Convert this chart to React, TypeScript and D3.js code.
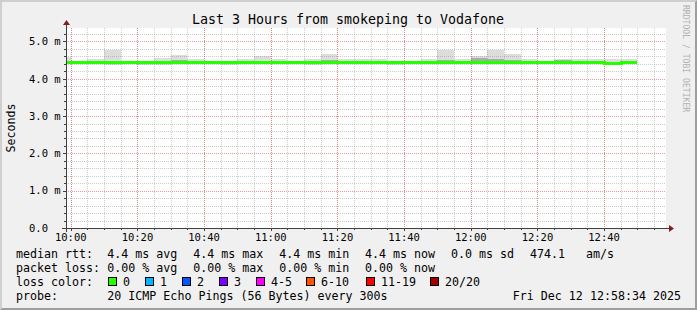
import React from "react";
import * as d3 from "d3";

const W = 697;
const H = 310;
const X0 = 66;
const X1 = 666;
const Y0 = 228;
const Y1 = 28;

const startTime = new Date(2025, 11, 12, 9, 58, 34);
const endTime = new Date(2025, 11, 12, 12, 58, 34);

const intervalEnds = [
  "10:00", "10:05", "10:10", "10:15", "10:20", "10:25", "10:30", "10:35", "10:40", "10:45",
  "10:50", "10:55", "11:00", "11:05", "11:10", "11:15", "11:20", "11:25", "11:30", "11:35",
  "11:40", "11:45", "11:50", "11:55", "12:00", "12:05", "12:10", "12:15", "12:20", "12:25",
  "12:30", "12:35", "12:40", "12:45", "12:50",
];
const medianMs = [
  4.45, 4.45, 4.45, 4.45, 4.44, 4.44, 4.45, 4.45, 4.45, 4.45,
  4.44, 4.45, 4.45, 4.45, 4.45, 4.45, 4.46, 4.45, 4.45, 4.45,
  4.44, 4.45, 4.45, 4.45, 4.45, 4.46, 4.46, 4.45, 4.45, 4.45,
  4.45, 4.45, 4.45, 4.43, 4.45,
];
const minMs = [
  4.42, 4.43, 4.40, 4.38, 4.39, 4.38, 4.38, 4.40, 4.42, 4.39,
  4.38, 4.43, 4.43, 4.42, 4.43, 4.38, 4.42, 4.42, 4.40, 4.42,
  4.38, 4.43, 4.43, 4.43, 4.43, 4.42, 4.43, 4.40, 4.40, 4.42,
  4.43, 4.43, 4.43, 4.38, 4.43,
];
const maxMs = [
  4.57, 4.46, 4.54, 4.78, 4.46, 4.46, 4.55, 4.64, 4.54, 4.47,
  4.46, 4.54, 4.60, 4.53, 4.46, 4.54, 4.65, 4.52, 4.54, 4.54,
  4.46, 4.47, 4.54, 4.76, 4.52, 4.62, 4.78, 4.66, 4.54, 4.46,
  4.54, 4.52, 4.52, 4.54, 4.54,
];
const innerLoMs = [
  4.43, 4.44, 4.43, 4.39, 4.40, 4.39, 4.40, 4.42, 4.43, 4.41,
  4.40, 4.44, 4.44, 4.43, 4.44, 4.40, 4.44, 4.43, 4.42, 4.43,
  4.40, 4.44, 4.44, 4.44, 4.44, 4.44, 4.44, 4.42, 4.42, 4.43,
  4.45, 4.44, 4.44, 4.39, 4.44,
];
const innerHiMs = [
  4.47, 4.46, 4.47, 4.48, 4.45, 4.45, 4.47, 4.49, 4.47, 4.46,
  4.45, 4.47, 4.48, 4.47, 4.46, 4.47, 4.50, 4.48, 4.48, 4.47,
  4.45, 4.46, 4.47, 4.50, 4.47, 4.55, 4.52, 4.50, 4.47, 4.46,
  4.49, 4.47, 4.47, 4.46, 4.47,
];

const yTicks = [0, 1, 2, 3, 4, 5];
const yTickLabels = ["0.0", "1.0 m", "2.0 m", "3.0 m", "4.0 m", "5.0 m"];
const xTickLabels = ["10:00", "10:20", "10:40", "11:00", "11:20", "11:40", "12:00", "12:20", "12:40"];

const lossLabels = ["0", "1", "2", "3", "4-5", "6-10", "11-19", "20/20"];
const lossColors = ["#26ff00", "#00b8ff", "#0059ff", "#7e00ff", "#ff00ff", "#ff5500", "#ff0000", "#a00000"];
const lossBoxX = [108, 145, 182, 219, 256, 306, 366, 430];

const rttParts = ["4.4 ms avg", "4.4 ms max", "4.4 ms min", "4.4 ms now", "0.0 ms sd", "474.1", "am/s"];
const rttX = [107.3, 193.3, 279.3, 365, 451, 530, 586];
const lossParts = ["0.00 % avg", "0.00 % max", "0.00 % min", "0.00 % now"];
const lossX = [107.3, 193.3, 279.3, 365];

const FONT = "'DejaVu Sans Mono', monospace";

function parseT(s: string): Date {
  const [h, m] = s.split(":").map(Number);
  return new Date(2025, 11, 12, h, m, 0);
}

export default function App() {
  const x = d3.scaleTime().domain([startTime, endTime]).range([X0, X1]);
  const y = d3.scaleLinear().domain([0, 5.36]).range([Y0, Y1]);
  const px = (v: number) => Math.round(v) + 0.5;

  const intervals = intervalEnds.map((e, i) => {
    const end = parseT(e);
    let start = new Date(end.getTime() - 300000);
    if (start < startTime) start = startTime;
    return { start, end, med: medianMs[i], min: minMs[i], max: maxMs[i], lo: innerLoMs[i], hi: innerHiMs[i] };
  });

  const medPts: [number, number][] = [];
  intervals.forEach((d) => {
    medPts.push([Math.round(x(d.start)), Math.round(y(d.med)) + 0.5]);
    medPts.push([Math.round(x(d.end)), Math.round(y(d.med)) + 0.5]);
  });
  const medLine = d3.line()(medPts) || "";

  const minorT = d3.timeMinute.every(5)!.range(startTime, endTime);
  const majorT = xTickLabels.map(parseT);
  const minorY = d3.range(0, 5.36, 0.2).filter((v) => Math.abs(v - Math.round(v)) > 1e-6);

  const gridMinor = { stroke: "#8f8f8f", strokeOpacity: 0.46, strokeDasharray: "1,1" };
  const gridMajor = { stroke: "#de5050", strokeOpacity: 0.57, strokeDasharray: "1,1" };

  const legendY = [258, 272, 286, 300];

  return (
    <svg width={W} height={H} style={{ position: "absolute", left: 0, top: 0 }} fontFamily={FONT}>
      <rect x={0} y={0} width={W} height={H} fill="#f0f0f0" />
      <polygon points={`0,0 ${W},0 ${W - 2},2 2,2 2,${H - 2} 0,${H}`} fill="#cfcfcf" />
      <polygon points={`${W},0 ${W},${H} 0,${H} 2,${H - 2} ${W - 2},${H - 2} ${W - 2},2`} fill="#9e9e9e" />
      <rect x={X0} y={Y1} width={X1 - X0} height={Y0 - Y1} fill="#ffffff" />

      {/* smoke */}
      <g shapeRendering="crispEdges">
        {intervals.map((d, i) => (
          <rect key={"s" + i} x={x(d.start)} width={x(d.end) - x(d.start)} y={y(d.max)} height={y(d.min) - y(d.max)} fill="#dddddd" />
        ))}
        {intervals.map((d, i) => (
          <rect key={"si" + i} x={x(d.start)} width={x(d.end) - x(d.start)} y={y(d.hi)} height={y(d.lo) - y(d.hi)} fill="#aaaaaa" />
        ))}
      </g>

      {/* grid */}
      {minorT.map((t, i) => (
        <line key={"gx" + i} x1={px(x(t))} x2={px(x(t))} y1={Y1} y2={Y0} {...gridMinor} />
      ))}
      {minorY.map((v, i) => (
        <line key={"gy" + i} x1={X0} x2={X1} y1={px(y(v))} y2={px(y(v))} {...gridMinor} />
      ))}
      {majorT.map((t, i) => (
        <line key={"Gx" + i} x1={px(x(t))} x2={px(x(t))} y1={Y1} y2={Y0} {...gridMajor} />
      ))}
      {yTicks.slice(1).map((v, i) => (
        <line key={"Gy" + i} x1={X0} x2={X1} y1={px(y(v))} y2={px(y(v))} {...gridMajor} />
      ))}

      {/* median */}
      <path d={medLine} fill="none" stroke="#26ff00" strokeWidth={3} shapeRendering="crispEdges" />

      {/* axes */}
      {minorT.map((t, i) => (
        <line key={"tx" + i} x1={px(x(t))} x2={px(x(t))} y1={Y0} y2={Y0 + 2} stroke="#404040" />
      ))}
      {majorT.map((t, i) => (
        <line key={"Tx" + i} x1={px(x(t))} x2={px(x(t))} y1={Y0} y2={Y0 + 3} stroke="#404040" />
      ))}
      {minorY.map((v, i) => (
        <line key={"ty" + i} x1={X0 - 2} x2={X0} y1={px(y(v))} y2={px(y(v))} stroke="#404040" />
      ))}
      {yTicks.map((v, i) => (
        <line key={"Ty" + i} x1={X0 - 3} x2={X0} y1={px(y(v))} y2={px(y(v))} stroke="#404040" />
      ))}
      <line x1={X0 - 4} x2={X1 + 4} y1={Y0 + 0.5} y2={Y0 + 0.5} stroke="#404040" />
      <line x1={X0 + 0.5} x2={X0 + 0.5} y1={Y0 + 4} y2={Y1 - 4} stroke="#404040" />
      <polygon points={`${X1 + 3},${Y0 - 3} ${X1 + 3},${Y0 + 4} ${X1 + 8},${Y0 + 0.5}`} fill="#7f1f1f" />
      <polygon points={`${X0 - 3},${Y1 - 3} ${X0 + 4},${Y1 - 3} ${X0 + 0.5},${Y1 - 8}`} fill="#7f1f1f" />

      {/* tick labels */}
      {yTicks.map((v, i) => (
        <text key={"yl" + i} x={29} y={y(v) + 3.8} fontSize={10.5} fill="#000">{yTickLabels[i]}</text>
      ))}
      {majorT.map((t, i) => (
        <text key={"xl" + i} x={x(t)} y={241} fontSize={10.5} textAnchor="middle" fill="#000">{xTickLabels[i]}</text>
      ))}

      {/* title & labels */}
      <text x={348} y={24} fontSize={13.3} textAnchor="middle" fill="#000">Last 3 Hours from smokeping to Vodafone</text>
      <text transform={`translate(15,128) rotate(-90)`} fontSize={11.6} textAnchor="middle" fill="#000">Seconds</text>
      <text transform={`translate(683,5) rotate(90)`} fontSize={8.1} fill="#b0b0b0">RRDTOOL / TOBI OETIKER</text>

      {/* legend */}
      <g fontSize={11.65} fill="#000">
        <text x={16} y={legendY[0]}>median rtt:</text>
        {rttParts.map((s, i) => (
          <text key={"r" + i} x={rttX[i]} y={legendY[0]}>{s}</text>
        ))}
        <text x={16} y={legendY[1]}>packet loss:</text>
        {lossParts.map((s, i) => (
          <text key={"l" + i} x={lossX[i]} y={legendY[1]}>{s}</text>
        ))}
        <text x={16} y={legendY[2]}>loss color:</text>
        {lossLabels.map((s, i) => (
          <g key={"c" + i}>
            <rect x={lossBoxX[i] + 0.5} y={277.5} width={8} height={8} fill={lossColors[i]} stroke="#000" />
            <text x={lossBoxX[i] + 15} y={legendY[2]}>{s}</text>
          </g>
        ))}
        <text x={16} y={legendY[3]}>probe:</text>
        <text x={107.3} y={legendY[3]}>20 ICMP Echo Pings (56 Bytes) every 300s</text>
        <text x={681} y={legendY[3]} textAnchor="end">Fri Dec 12 12:58:34 2025</text>
      </g>
    </svg>
  );
}
